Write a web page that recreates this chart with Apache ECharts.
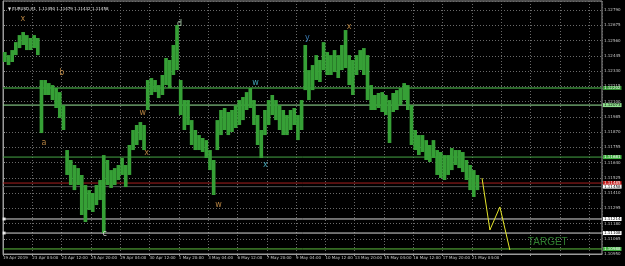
<!DOCTYPE html>
<html><head><meta charset="utf-8">
<script src="https://cdn.jsdelivr.net/npm/echarts@6/dist/echarts.min.js"></script>
<style>html,body{margin:0;padding:0;background:#000}#c{width:625px;height:266px}</style>
</head><body><div id="c"></div>
<script>
// H1 bars grouped in 4-bar buckets: highs / lows
const highs = [1.12473,1.12450,1.12488,1.12548,1.12601,1.12624,1.12601,1.12579,1.12601,1.12579,
1.12262,1.12262,1.12239,1.12224,1.12202,1.12171,1.12073,1.11734,1.11659,1.11621,
1.11598,1.11546,1.11470,1.11432,1.11410,1.11470,1.11508,1.11696,1.11659,1.11583,
1.11598,1.11621,1.11674,1.11621,1.11772,1.11885,1.11923,1.11945,1.11923,1.12262,
1.12277,1.12262,1.12224,1.12300,1.12428,1.12413,1.12526,1.12677,1.12262,1.12111,
1.12111,1.11960,1.11885,1.11847,1.11825,1.11809,1.11734,1.11659,1.11960,1.12036,
1.12051,1.12021,1.12036,1.12073,1.12111,1.12134,1.12171,1.12202,1.12111,1.11998,
1.11885,1.12036,1.12111,1.12149,1.12111,1.12073,1.12036,1.11998,1.12036,1.12051,
1.11998,1.12111,1.12526,1.12337,1.12375,1.12450,1.12413,1.12548,1.12473,1.12450,
1.12488,1.12450,1.12526,1.12639,1.12450,1.12413,1.12450,1.12488,1.12503,1.12450,
1.12224,1.12149,1.12164,1.12171,1.12149,1.12111,1.12164,1.12186,1.12202,1.12239,
1.12224,1.12073,1.11885,1.11847,1.11847,1.11809,1.11772,1.11809,1.11734,1.11719,
1.11696,1.11696,1.11749,1.11734,1.11734,1.11719,1.11659,1.11621,1.11583,1.11546];
const lows = [1.12398,1.12375,1.12398,1.12450,1.12503,1.12526,1.12488,1.12488,1.12503,1.12450,
1.11862,1.12149,1.12149,1.12111,1.12051,1.11975,1.11885,1.11546,1.11470,1.11432,
1.11470,1.11244,1.11191,1.11282,1.11267,1.11319,1.11357,1.11108,1.11470,1.11448,
1.11470,1.11508,1.11546,1.11455,1.11546,1.11734,1.11772,1.11809,1.11734,1.12036,
1.12149,1.12171,1.12126,1.12149,1.12224,1.12202,1.12300,1.12337,1.11998,1.11885,
1.11923,1.11772,1.11734,1.11734,1.11719,1.11674,1.11583,1.11395,1.11734,1.11847,
1.11885,1.11847,1.11870,1.11900,1.11923,1.11960,1.12036,1.12051,1.11923,1.11772,
1.11674,1.11847,1.11923,1.11998,1.11960,1.11885,1.11847,1.11847,1.11885,1.11923,
1.11809,1.11885,1.12186,1.12111,1.12186,1.12262,1.12247,1.12337,1.12300,1.12300,
1.12322,1.12277,1.12337,1.12352,1.12224,1.12149,1.12300,1.12337,1.12300,1.12111,
1.12036,1.12036,1.12051,1.12021,1.11998,1.11787,1.12021,1.12036,1.12073,1.12111,
1.12036,1.11772,1.11734,1.11696,1.11719,1.11659,1.11644,1.11674,1.11546,1.11523,
1.11508,1.11546,1.11583,1.11621,1.11598,1.11568,1.11508,1.11432,1.11380,1.11432];
const barsPerBucket = 4;

const dateLabels = ['19 Apr 2019','23 Apr 04:00','24 Apr 12:00','25 Apr 20:00','29 Apr 04:00','30 Apr 12:00',
'1 May 20:00','3 May 04:00','6 May 12:00','7 May 20:00','9 May 04:00','10 May 12:00','13 May 20:00',
'15 May 04:00','16 May 12:00','17 May 20:00','21 May 04:00'];
const priceTickStart = 1.10950, priceTickStep = 0.00115, priceTop = 1.12858;
const totalBars = 654;

// horizontal levels
const levelPrices = [1.12202, 1.12073, 1.11681, 1.11485, 1.11458, 1.11214, 1.11108, 1.10988];
const levelColors = ['#3a8a3a', '#9be89b', '#45a545', '#a82020', '#505050', '#d8d8d8', '#d8d8d8', '#5fbf3f'];
const levelBoxBg  = ['#2f8f2f', '#8fdf8f', '#3faf3f', '#c01818', '#ffffff', '#ffffff', '#ffffff', '#3faf3f'];
const levelBoxFg  = ['#ffffff', '#000000', '#ffffff', '#ffffff', '#000000', '#000000', '#000000', '#ffffff'];
const levelMarked = [false, false, false, false, false, true, true, false];

// projection
const projBars = [523, 531.6, 542.5, 553.4];
const projPrices = [1.11523, 1.11131, 1.11305, 1.10980];

// wave labels
const waveNames = ['x','b','a','c','w','x','d','w','w','x','y','x'];
const waveBars = [21.8, 64.3, 44.7, 111.1, 152.5, 156.9, 192.8, 235.3, 275.6, 286.5, 332.2, 378];
const wavePrices = [1.12722, 1.12315, 1.11787, 1.11101, 1.12013, 1.11712, 1.12684, 1.11320, 1.12240, 1.11621, 1.12579, 1.12662];
const waveColors = ['#e0a050','#e0a050','#e0a050','#f0f0f0','#e0a050','#e0a050','#c8f0c8','#e0a050','#50c8e0','#50c8e0','#4a9ae0','#e0a050'];
const targetText = 'TARGET', targetBar = 594.8, targetPrice = 1.11040;

const chart = echarts.init(document.getElementById('c'));
const barData = highs.map((h, i) => [i * barsPerBucket + barsPerBucket / 2, lows[i], h]);

const levelSeries = levelPrices.map((v, i) => ({
  type: 'line', data: [[0, v], [totalBars, v]], symbol: 'none', z: 2, silent: true,
  lineStyle: { color: levelColors[i], width: i === 0 ? 1.5 : 1 },
  endLabel: { show: true, distance: 1, formatter: v.toFixed(5), fontSize: 4, fontFamily: 'DejaVu Sans',
    color: levelBoxFg[i], backgroundColor: levelBoxBg[i], padding: [0, 1] }
}));

chart.setOption({
  backgroundColor: '#000',
  animation: false,
  title: { text: '\u25BC EURUSD,H1  1.11450 1.11479 1.11432 1.11458', left: 3, top: 2,
    textStyle: { color: '#e8e8e8', fontSize: 4, fontWeight: 'normal', fontFamily: 'DejaVu Sans' } },
  grid: { left: 2, right: 23, top: 1, bottom: 12, show: true, borderColor: '#9a9a9a', borderWidth: 1 },
  xAxis: { type: 'value', min: 0, max: totalBars, interval: 32,
    axisLine: { show: true, lineStyle: { color: '#9a9a9a' } },
    axisTick: { show: true, length: 2, lineStyle: { color: '#9a9a9a' } },
    axisLabel: { color: '#c8c8c8', fontSize: 4, margin: 2, align: 'left', showMaxLabel: false,
      fontFamily: 'DejaVu Sans', formatter: v => dateLabels[Math.round(v / 32)] || '' },
    splitLine: { show: true, lineStyle: { color: '#6a6a6a', type: [1, 2], width: 1 } } },
  yAxis: { type: 'value', position: 'right', min: priceTickStart, max: priceTop, interval: priceTickStep,
    axisLine: { show: true, lineStyle: { color: '#9a9a9a' } },
    axisTick: { show: true, length: 2, lineStyle: { color: '#9a9a9a' } },
    axisLabel: { color: '#c8c8c8', fontSize: 4, margin: 2, showMaxLabel: false, fontFamily: 'DejaVu Sans',
      formatter: v => v.toFixed(5) },
    splitLine: { show: true, lineStyle: { color: '#6a6a6a', type: [1, 2], width: 1 } } },
  series: levelSeries.concat([
    { type: 'custom', data: barData, encode: { x: 0, y: [1, 2] }, z: 3,
      renderItem: (params, api) => {
        const x = api.value(0);
        const p1 = api.coord([x - barsPerBucket * 0.5, api.value(2)]);
        const p2 = api.coord([x + barsPerBucket * 0.5, api.value(1)]);
        return { type: 'rect', shape: { x: p1[0], y: p1[1], width: p2[0] - p1[0], height: p2[1] - p1[1] },
          style: { fill: '#36a036' } };
      } },
    { type: 'line', data: projBars.map((b, i) => [b, projPrices[i]]), symbol: 'none', z: 4,
      lineStyle: { color: '#e6e62a', width: 1 } },
    { type: 'scatter', symbol: 'rect', symbolSize: 3, z: 5,
      itemStyle: { color: '#ffffff' },
      data: levelPrices.map((v, i) => levelMarked[i] ? [1.2, v] : null).filter(d => d) },
    { type: 'scatter', symbolSize: 0, z: 6,
      data: waveNames.map((n, i) => ({ value: [waveBars[i], wavePrices[i]],
        label: { show: true, position: 'inside', formatter: n, color: waveColors[i], fontSize: 8,
          fontFamily: 'DejaVu Sans' } })) },
    { type: 'scatter', symbolSize: 0, z: 6,
      data: [{ value: [targetBar, targetPrice], label: { show: true, position: 'inside', formatter: targetText,
        color: '#3c9e3c', fontSize: 10, fontFamily: 'Liberation Sans' } }] }
  ])
});
</script></body></html>
